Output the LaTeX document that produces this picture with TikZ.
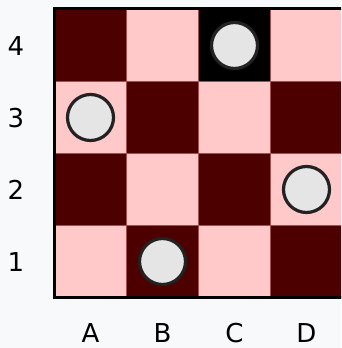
\documentclass[tikz,border=0pt]{standalone}
\usepackage{fontspec}
\setmainfont{DejaVu Sans}
\definecolor{bg}{RGB}{248,249,251}
\definecolor{darksq}{RGB}{77,0,0}
\definecolor{lightsq}{RGB}{255,200,201}
\definecolor{sqedge}{RGB}{160,80,80}
\definecolor{piece}{RGB}{229,229,229}
\definecolor{pieceedge}{RGB}{34,34,34}
\begin{document}
\begin{tikzpicture}[x=1pt,y=-1pt,
  square/.style={draw=sqedge,line width=0.7pt,minimum size=72pt,inner sep=0pt,outer sep=0pt},
  dsq/.style={square,fill=darksq},
  lsq/.style={square,fill=lightsq},
  bsq/.style={square,fill=black},
  piecenode/.style={circle,fill=piece,draw=pieceedge,line width=3.2pt,minimum size=46pt,inner sep=0pt},
  lbl/.style={font=\fontsize{26}{30}\selectfont,anchor=base,inner sep=0pt}]
\useasboundingbox (0,0) rectangle (341,348);
\fill[bg] (0,0) rectangle (341,348);
\clip (0,0) rectangle (341,348);
\foreach \i in {0,1,2,3}{
  \foreach \j in {0,1,2,3}{
    \pgfmathtruncatemacro{\parity}{mod(\i+\j,2)}
    \ifnum\parity=0
      \node[dsq] (sq-\i-\j) at ({90.5+72*\i},{45.5+72*\j}) {};
    \else
      \node[lsq] (sq-\i-\j) at ({90.5+72*\i},{45.5+72*\j}) {};
    \fi
  }
}
\node[bsq] (sq-2-0b) at (234.5,45.5) {};
\draw[line width=3pt] (54,8.3) rectangle (344,297.8);
\node[piecenode] (pA3) at (sq-0-1) {};
\node[piecenode] (pC4) at (sq-2-0b) {};
\node[piecenode] (pD2) at (sq-3-2) {};
\node[piecenode] (pB1) at (sq-1-3) {};
\node[lbl] (r4) at (16,55) {4};
\node[lbl] (r3) at (16,127) {3};
\node[lbl] (r2) at (16,199) {2};
\node[lbl] (r1) at (16,271) {1};
\node[lbl] (cA) at (90.5,342) {A};
\node[lbl] (cB) at (162.5,342) {B};
\node[lbl] (cC) at (234.5,342) {C};
\node[lbl] (cD) at (306.5,342) {D};
\end{tikzpicture}
\end{document}
